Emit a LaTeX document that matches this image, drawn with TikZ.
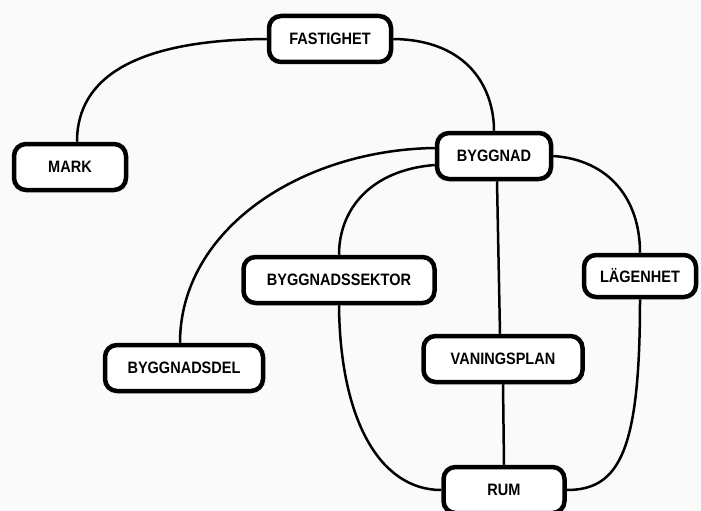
\documentclass[tikz,border=0pt]{standalone}
\usepackage{fontspec}
\newfontfamily\lblfont{Liberation Sans}[FakeStretch=0.88]
\begin{document}
\begin{tikzpicture}[x=1pt,y=-1pt,
  entity/.style={draw=black, line width=4.5pt, rounded corners=12pt, fill=white,
    inner sep=0pt, minimum height=46pt,
    font=\lblfont\bfseries\fontsize{16.5}{18}\selectfont},
  link/.style={draw=black, line width=2.5pt}]
  \fill[gray!4] (0,0) rectangle (701,511);
  \useasboundingbox (0,0) rectangle (701,511);

  % entities
  \node[entity, minimum width=122pt] (fast) at (330,39)  {FASTIGHET};
  \node[entity, minimum width=112pt] (mark) at (70,167)  {MARK};
  \node[entity, minimum width=114pt] (byg)  at (494,156) {BYGGNAD};
  \node[entity, minimum width=191pt] (sek)  at (339,280) {BYGGNADSSEKTOR};
  \node[entity, minimum width=112pt, minimum height=42pt] (lag) at (640,276) {LÄGENHET};
  \node[entity, minimum width=158pt] (del)  at (184,368) {BYGGNADSDEL};
  \node[entity, minimum width=159pt] (van)  at (503,359) {VANINGSPLAN};
  \node[entity, minimum width=121pt] (rum)  at (504,490) {RUM};

  % relations
  \path[link] (fast.west) .. controls (140,40) and ([xshift=7pt]mark.north |- 0,75) .. ([xshift=7pt]mark.north);
  \path[link] (fast.east) .. controls (470,40) and (494,90) .. (byg.north);
  \path[link] ([yshift=8pt]byg.west) .. controls (300,150) and (180,230) .. ([xshift=-4pt]del.north);
  \path[link] ([yshift=-9pt]byg.west) .. controls (370,170) and (339,210) .. (sek.north);
  \path[link] (sek.south) .. controls (340,420) and (380,490) .. (rum.west);
  \path[link] ([xshift=3pt]byg.south) -- ([xshift=-3pt]van.north);
  \path[link] (van.south) -- (rum.north);
  \path[link] (byg.east) .. controls (610,160) and (640,200) .. (lag.north);
  \path[link] (lag.south) .. controls (640,450) and (620,490) .. (rum.east);
\end{tikzpicture}
\end{document}
